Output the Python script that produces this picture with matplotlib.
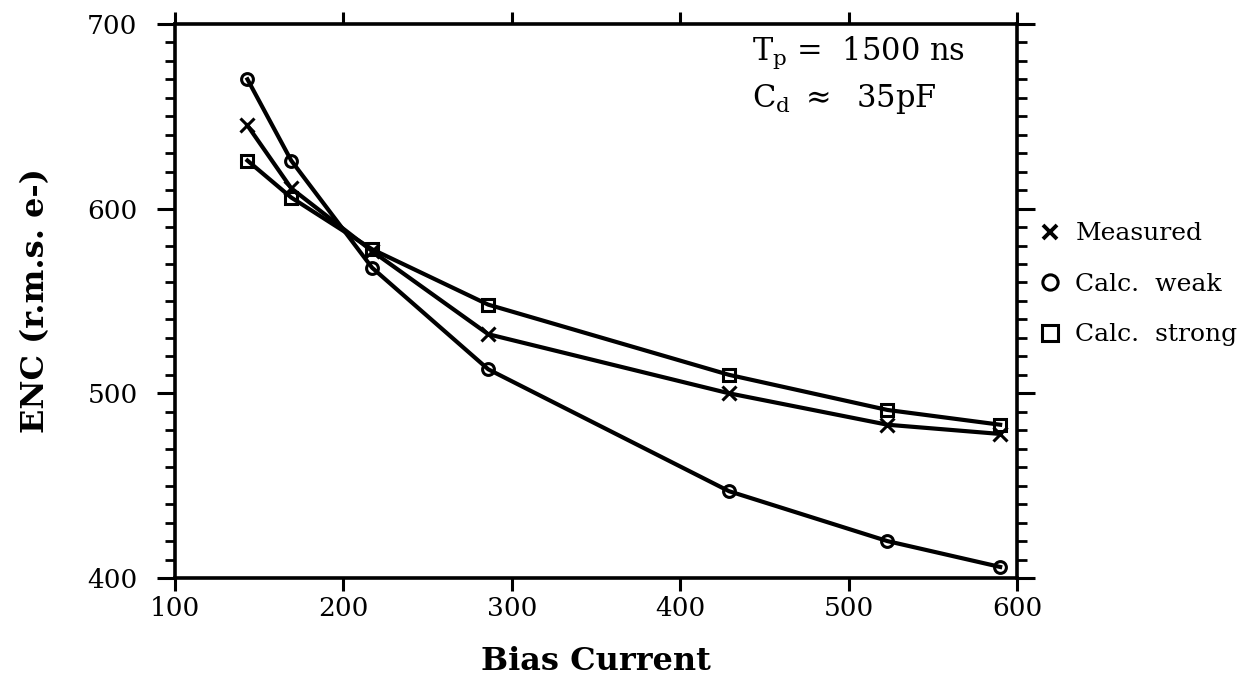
import numpy as np
import matplotlib
matplotlib.use('Agg')
import matplotlib.pyplot as plt
from matplotlib.lines import Line2D
from matplotlib.ticker import MultipleLocator

# data
bias_current = [143, 169, 217, 286, 429, 523, 590]
enc_measured = [645, 611, 577, 532, 500, 483, 478]
enc_weak     = [670, 626, 568, 513, 447, 420, 406]
enc_strong   = [626, 606, 578, 548, 510, 491, 483]

labels  = ['Measured', 'Calc.  weak', 'Calc.  strong']
markers = ['x', 'o', 's']

plt.rcParams['font.family'] = ['DejaVu Serif']
plt.rcParams['mathtext.fontset'] = 'dejavuserif'

fig = plt.figure(figsize=(12.54, 6.83), dpi=100)
ax = fig.add_axes([0.1396, 0.1537, 0.6714, 0.8113])

lw = 3.0
for y, m in zip([enc_measured, enc_weak, enc_strong], markers):
    ax.plot(bias_current, y, color='k', lw=lw, marker=m, ms=8.5 if m != 'x' else 9.5,
            mew=2.2, mfc='none', mec='k')

ax.set_xlim(100, 600)
ax.set_ylim(400, 700)

for s in ax.spines.values():
    s.set_linewidth(2.6)

# x ticks: major only, bottom down and top up
ax.xaxis.set_major_locator(MultipleLocator(100))
ax.tick_params(axis='x', which='major', direction='out', length=9, width=2.2,
               top=True, bottom=True, labelsize=19, pad=4)

# y ticks: major every 100, minor every 10, both sides outward
ax.yaxis.set_major_locator(MultipleLocator(100))
ax.yaxis.set_minor_locator(MultipleLocator(10))
ax.tick_params(axis='y', which='major', direction='out', length=13, width=2.2,
               left=True, right=True, labelsize=19, pad=14)
ax.tick_params(axis='y', which='minor', direction='out', length=7, width=2,
               left=True, right=True)

ax.set_xlabel('Bias Current', fontsize=23, fontweight='bold', labelpad=18)
ax.set_ylabel('ENC (r.m.s. e-)', fontsize=23, fontweight='bold', labelpad=26)

# annotation
ax.text(0.685, 0.947, r'T$_\mathrm{p}$ =  1500 ns', transform=ax.transAxes,
        fontsize=22, ha='left', va='center')
ax.text(0.685, 0.865, r'C$_\mathrm{d}$ $\approx$  35pF', transform=ax.transAxes,
        fontsize=22, ha='left', va='center')

# legend outside the axes, markers only
handles = [Line2D([], [], color='k', ls='none', marker=m, ms=10 if m == 'x' else 11,
                  mew=2.8 if m == 'x' else 2.2, mfc='none', mec='k') for m in markers]
ax.legend(handles, labels, loc='center left', bbox_to_anchor=(1.01, 0.53),
          frameon=False, fontsize=18, handlelength=0.8, handletextpad=0.6,
          labelspacing=1.1, borderaxespad=0.2)

fig.savefig('out.png', dpi=100)
